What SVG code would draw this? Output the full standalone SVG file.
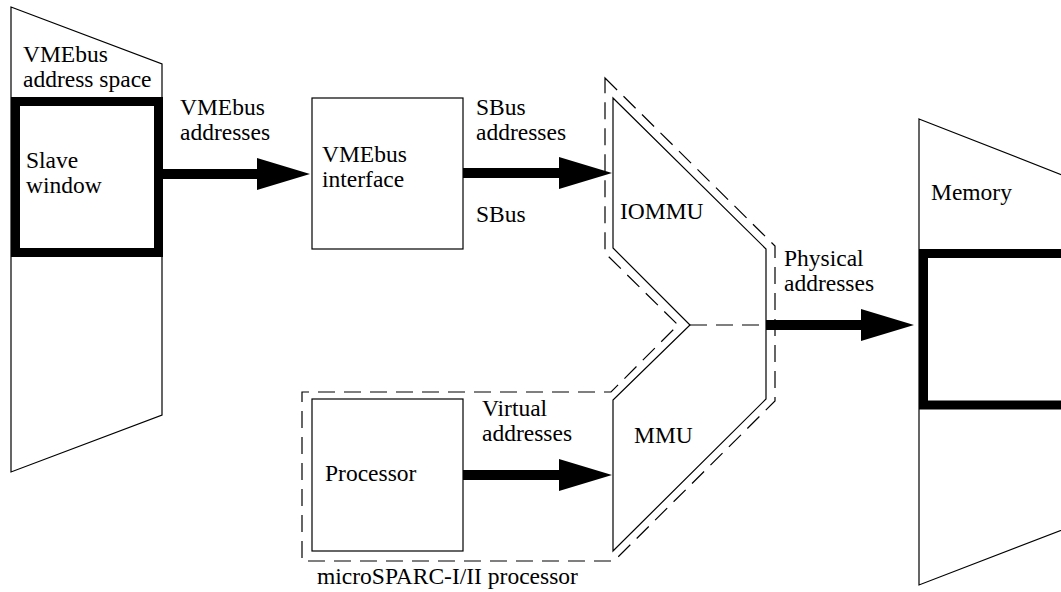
<svg xmlns="http://www.w3.org/2000/svg" width="1061" height="592" viewBox="0 0 1061 592">
<style>
text{font-family:"Liberation Serif","Times New Roman",serif;font-size:23.5px;fill:#000}
.thin{fill:#fff;stroke:#000;stroke-width:1.2}
.thick{fill:none;stroke:#000;stroke-width:9}
.dash{fill:none;stroke:#000;stroke-width:1.2;stroke-dasharray:17 9}
.shaft{stroke:#000;stroke-width:10;fill:none}
</style>
<defs>
<marker id="head" markerUnits="userSpaceOnUse" markerWidth="56" markerHeight="34" refX="1" refY="16" orient="auto" overflow="visible">
<path d="M0,0 L53,16 L0,32 Z" fill="#000"/>
</marker>
</defs>
<rect width="1061" height="592" fill="#fff"/>

<g id="vmebus-space">
<polygon class="thin" points="11,7 162,64 162,415 11,472"/>
<rect class="thick" x="15.5" y="101.5" width="143" height="151"/>
<text x="23" y="62">VMEbus</text>
<text x="23" y="87">address space</text>
<text x="26" y="168">Slave</text>
<text x="26" y="193">window</text>
</g>

<g id="vmebus-interface">
<rect class="thin" x="312" y="98" width="151" height="151"/>
<text x="322" y="162">VMEbus</text>
<text x="322" y="187">interface</text>
</g>

<g id="microsparc">
<path class="dash" d="M605,78 L775,246 L775,401 L614,561 L302,561 L302,392 L611,392 L678,325 L605,253 Z"/>
<text x="317" y="584">microSPARC-I/II processor</text>
</g>

<g id="mmu">
<polygon class="thin" points="613,98 766,249 766,399 613,551 613,400 690,325 613,248"/>
<text x="620" y="219">IOMMU</text>
<text x="634" y="443">MMU</text>
</g>

<g id="processor">
<rect class="thin" x="312" y="399" width="151" height="152"/>
<text x="325" y="481">Processor</text>
</g>

<g id="memory">
<polygon class="thin" points="919,119 1075,180 1075,525 919,585"/>
<rect class="thick" x="923.5" y="253.5" width="200" height="151.5"/>
<text x="931" y="200">Memory</text>
</g>

<g id="connectors">
<line class="shaft" x1="163" y1="174" x2="258" y2="174" marker-end="url(#head)"/>
<line class="shaft" x1="463" y1="173" x2="560" y2="173" marker-end="url(#head)"/>
<line class="shaft" x1="463" y1="475" x2="560" y2="475" marker-end="url(#head)"/>
<line class="dash" x1="690" y1="325" x2="766" y2="325"/>
<line class="shaft" x1="766" y1="325" x2="862" y2="325" marker-end="url(#head)"/>
<text x="180" y="115">VMEbus</text>
<text x="180" y="140">addresses</text>
<text x="476" y="115">SBus</text>
<text x="476" y="140">addresses</text>
<text x="476" y="222">SBus</text>
<text x="482" y="416">Virtual</text>
<text x="482" y="441">addresses</text>
<text x="784" y="266">Physical</text>
<text x="784" y="291">addresses</text>
</g>
</svg>
